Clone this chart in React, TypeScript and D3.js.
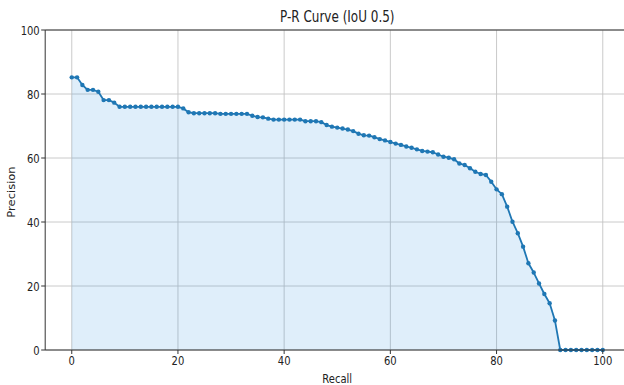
import React, { useRef, useEffect } from "react";
import * as d3 from "d3";

// recall 0..100, step 1
const recall: number[] = d3.range(0, 101);

const precision: number[] = [
  85.2, 85.2, 82.8, 81.3, 81.3, 80.7, 78.1, 78.1, 77.3, 76.0,
  76.0, 76.0, 76.0, 76.0, 76.0, 76.0, 76.0, 76.0, 76.0, 76.0,
  76.0, 75.5, 74.3, 74.0, 74.0, 74.0, 74.0, 74.0, 73.8, 73.8,
  73.8, 73.8, 73.8, 73.8, 73.2, 72.8, 72.7, 72.3, 72.0, 72.0,
  72.0, 72.0, 72.0, 72.0, 71.5, 71.5, 71.5, 71.2, 70.3, 69.8,
  69.5, 69.2, 68.9, 68.4, 67.6, 67.1, 67.0, 66.5, 65.9, 65.5,
  65.0, 64.5, 64.1, 63.6, 63.2, 62.7, 62.2, 62.0, 61.8, 61.1,
  60.4, 60.1, 59.6, 58.3, 57.8, 56.8, 55.7, 55.0, 54.7, 52.6,
  50.2, 48.7, 44.8, 40.1, 36.5, 32.3, 27.1, 24.2, 20.8, 17.5,
  14.6, 9.2, 0, 0, 0, 0, 0, 0, 0, 0,
  0,
];

const xTicks = [0, 20, 40, 60, 80, 100];
const yTicks = [0, 20, 40, 60, 80, 100];

const title = "P-R Curve (IoU 0.5)";
const xLabel = "Recall";
const yLabel = "Precision";

const PRChart = () => {
  const ref = useRef<SVGSVGElement>(null);

  useEffect(() => {
    const svg = d3.select(ref.current);
    svg.selectAll("*").remove();

    const W = 624;
    const H = 385;
    const left = 45.2;
    const right = 629.3;
    const top = 30;
    const bottom = 350;
    const font = "DejaVu Sans, sans-serif";
    const sy = 1.25; // the picture is stretched vertically

    svg.attr("width", W).attr("height", H);

    const data = recall.map((r, i) => ({ r, p: precision[i] }));

    const x = d3.scaleLinear().domain([-5, 105]).range([left, right]);
    const y = d3.scaleLinear().domain([0, 100]).range([bottom, top]);

    svg.append("rect").attr("width", W).attr("height", H).attr("fill", "#fff");

    // grid
    const grid = svg.append("g").attr("stroke", "#c4c4c4").attr("stroke-width", 0.9);
    xTicks.forEach((t) => {
      grid.append("line")
        .attr("x1", x(t)).attr("x2", x(t))
        .attr("y1", top).attr("y2", bottom);
    });
    yTicks.forEach((t) => {
      grid.append("line")
        .attr("x1", left).attr("x2", right)
        .attr("y1", y(t)).attr("y2", y(t));
    });

    // fill under curve
    const area = d3.area<{ r: number; p: number }>()
      .x((d) => x(d.r))
      .y0(y(0))
      .y1((d) => y(d.p));
    svg.append("path")
      .datum(data)
      .attr("fill", "#2a8fe0")
      .attr("fill-opacity", 0.15)
      .attr("d", area);

    // line + markers
    const line = d3.line<{ r: number; p: number }>()
      .x((d) => x(d.r))
      .y((d) => y(d.p));
    svg.append("path")
      .datum(data)
      .attr("fill", "none")
      .attr("stroke", "#1f77b4")
      .attr("stroke-width", 1.8)
      .attr("stroke-linejoin", "round")
      .attr("d", line);
    svg.append("g")
      .selectAll("circle")
      .data(data)
      .enter()
      .append("circle")
      .attr("cx", (d) => x(d.r))
      .attr("cy", (d) => y(d.p))
      .attr("r", 2.2)
      .attr("fill", "#1f77b4");

    // spines
    const sp = svg.append("g").attr("stroke", "#333").attr("stroke-width", 1);
    sp.append("line").attr("x1", left).attr("x2", left).attr("y1", top).attr("y2", bottom);
    sp.append("line").attr("x1", left).attr("x2", W).attr("y1", bottom).attr("y2", bottom);
    sp.append("line").attr("x1", left).attr("x2", W).attr("y1", top).attr("y2", top);

    // x ticks
    xTicks.forEach((t) => {
      svg.append("line")
        .attr("x1", x(t)).attr("x2", x(t))
        .attr("y1", bottom).attr("y2", bottom + 4)
        .attr("stroke", "#333");
      svg.append("text")
        .attr("transform", `translate(${x(t)},${bottom + 15}) scale(1,${sy})`)
        .attr("text-anchor", "middle")
        .attr("font-family", font)
        .attr("font-size", 10)
        .attr("fill", "#222")
        .text(t);
    });

    // y ticks
    yTicks.forEach((t) => {
      svg.append("line")
        .attr("x1", left - 4).attr("x2", left)
        .attr("y1", y(t)).attr("y2", y(t))
        .attr("stroke", "#333");
      svg.append("text")
        .attr("transform", `translate(${left - 5.5},${y(t) + 4.6}) scale(1,${sy})`)
        .attr("text-anchor", "end")
        .attr("font-family", font)
        .attr("font-size", 10)
        .attr("fill", "#222")
        .text(t);
    });

    svg.append("text")
      .attr("transform", `translate(${(left + right) / 2},${bottom + 33}) scale(1,${sy})`)
      .attr("text-anchor", "middle")
      .attr("font-family", font)
      .attr("font-size", 10)
      .attr("fill", "#222")
      .text(xLabel);

    svg.append("text")
      .attr("transform", `translate(15,${(top + bottom) / 2 + 2}) scale(1,1.15) rotate(-90)`)
      .attr("text-anchor", "middle")
      .attr("font-family", font)
      .attr("font-size", 10)
      .attr("fill", "#222")
      .text(yLabel);

    svg.append("text")
      .attr("transform", `translate(${(left + right) / 2},22) scale(1,${sy})`)
      .attr("text-anchor", "middle")
      .attr("font-family", font)
      .attr("font-size", 12)
      .attr("fill", "#222")
      .text(title);
  }, []);

  return (
    <svg
      ref={ref}
      style={{ position: "absolute", left: 0, top: 0, display: "block" }}
    />
  );
};

export default function App() {
  return <PRChart />;
}
